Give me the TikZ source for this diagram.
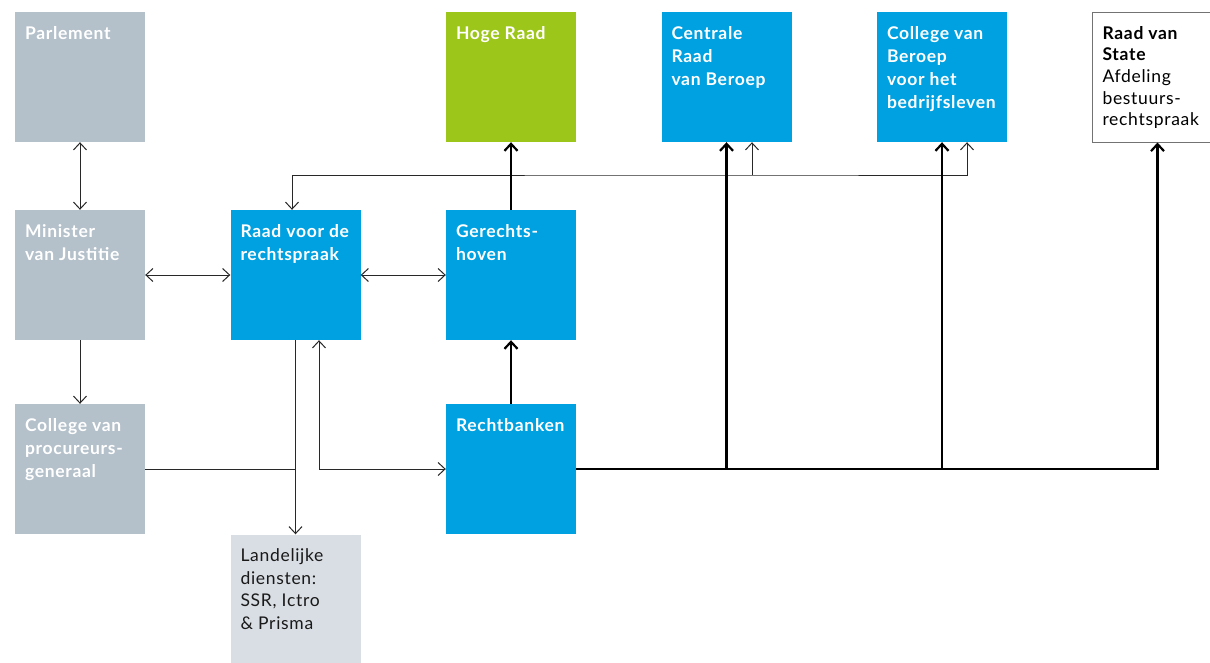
\documentclass[tikz,border=0pt]{standalone}
\usepackage{fontspec}
\setmainfont{Lato}[LetterSpace=4]
\usetikzlibrary{arrows.meta}

\definecolor{orggray}{RGB}{180,192,202}
\definecolor{orgblue}{RGB}{0,161,225}
\definecolor{orggreen}{RGB}{157,198,26}
\definecolor{orglight}{RGB}{217,222,228}
\definecolor{lijn}{RGB}{40,40,40}

% text in the top left corner of a box
\newcommand{\boxtext}[1]{\parbox[c][106pt][t]{110pt}{\raggedright\rule{0pt}{15pt}#1}}

\tikzset{
  orgbox/.style={shape=rectangle, inner sep=0pt, minimum width=130pt, minimum height=130pt,
    font=\fontsize{17.5}{23}\selectfont},
  graybox/.style={orgbox, fill=orggray, text=white, font=\fontsize{17.5}{23}\selectfont\bfseries},
  bluebox/.style={orgbox, fill=orgblue, text=white, font=\fontsize{17.5}{23}\selectfont\bfseries},
  greenbox/.style={orgbox, fill=orggreen, text=white, font=\fontsize{17.5}{23}\selectfont\bfseries},
  lightbox/.style={orgbox, fill=orglight, text=black!90, font=\fontsize{17.5}{22.5}\selectfont},
  openbox/.style={orgbox, draw=black!55, line width=1pt, fill=white, text=black, font=\fontsize{17.5}{21.7}\selectfont},
  line/.style={draw=lijn, line width=1pt},
  heavy/.style={draw=black, line width=2.2pt}
}

\begin{document}
\begin{tikzpicture}[x=1pt,y=-1pt,->,>={Straight Barb[length=7pt,width=13pt]},node distance=215.5pt]
    \useasboundingbox (0,0) rectangle (1210,662);

    \node[graybox] (parl) at (80,77) {\boxtext{Parlement}};
    \node[graybox] (min) [below of=parl, node distance=198pt] {\boxtext{Minister\\van Justitie}};
    \node[graybox] (cpg) [below of=min, node distance=194pt] {\boxtext{College van\\procureurs-\\generaal}};
    \node[bluebox] (rvr) [right of=min] {\boxtext{Raad voor de\\rechtspraak}};
    \node[lightbox] (land) [below of=rvr, node distance=324.5pt] {\boxtext{Landelijke\\diensten:\\SSR, Ictro\\\& Prisma}};
    \node[bluebox] (gh) [right of=rvr] {\boxtext{Gerechts-\\hoven}};
    \node[greenbox] (hr) [above of=gh, node distance=198pt] {\boxtext{Hoge Raad}};
    \node[bluebox] (rb) [below of=gh, node distance=194pt] {\boxtext{Rechtbanken}};
    \node[bluebox] (crvb) [right of=hr] {\boxtext{Centrale\\Raad\\van Beroep}};
    \node[bluebox] (cbb) [right of=crvb] {\boxtext{College van\\Beroep\\voor het\\bedrijfsleven}};
    \node[openbox] (rvs) [right of=cbb] {\boxtext{{\bfseries Raad van\\State}\\Afdeling\\bestuurs-\\rechtspraak}};

    \path[line] (parl) edge[<->] (min)
          (min) edge (cpg)
          (min) edge[<->] (rvr)
          (rvr) edge[<->] (gh)
          (rvr) edge (land);
    \draw[line,-] (cpg.east) -- (cpg.east -| rvr.south);
    \draw[line,<->] ([xshift=23.5pt]rvr.south) |- (rb.west);

    \coordinate (bus) at (752,175);
    \draw[line,<->] ([xshift=-3.5pt]rvr.north) |- (bus) -| ([xshift=25pt]cbb.south);
    \draw[line] (bus) -- (bus |- crvb.south);

    \path[heavy] (rb) edge (gh)
          (gh) edge (hr);
    \draw[heavy] (rb.east) -| (rvs.south);
    \draw[heavy] (rb.east -| crvb.south) -- (crvb.south);
    \draw[heavy] (rb.east -| cbb.south) -- (cbb.south);
\end{tikzpicture}
\end{document}
